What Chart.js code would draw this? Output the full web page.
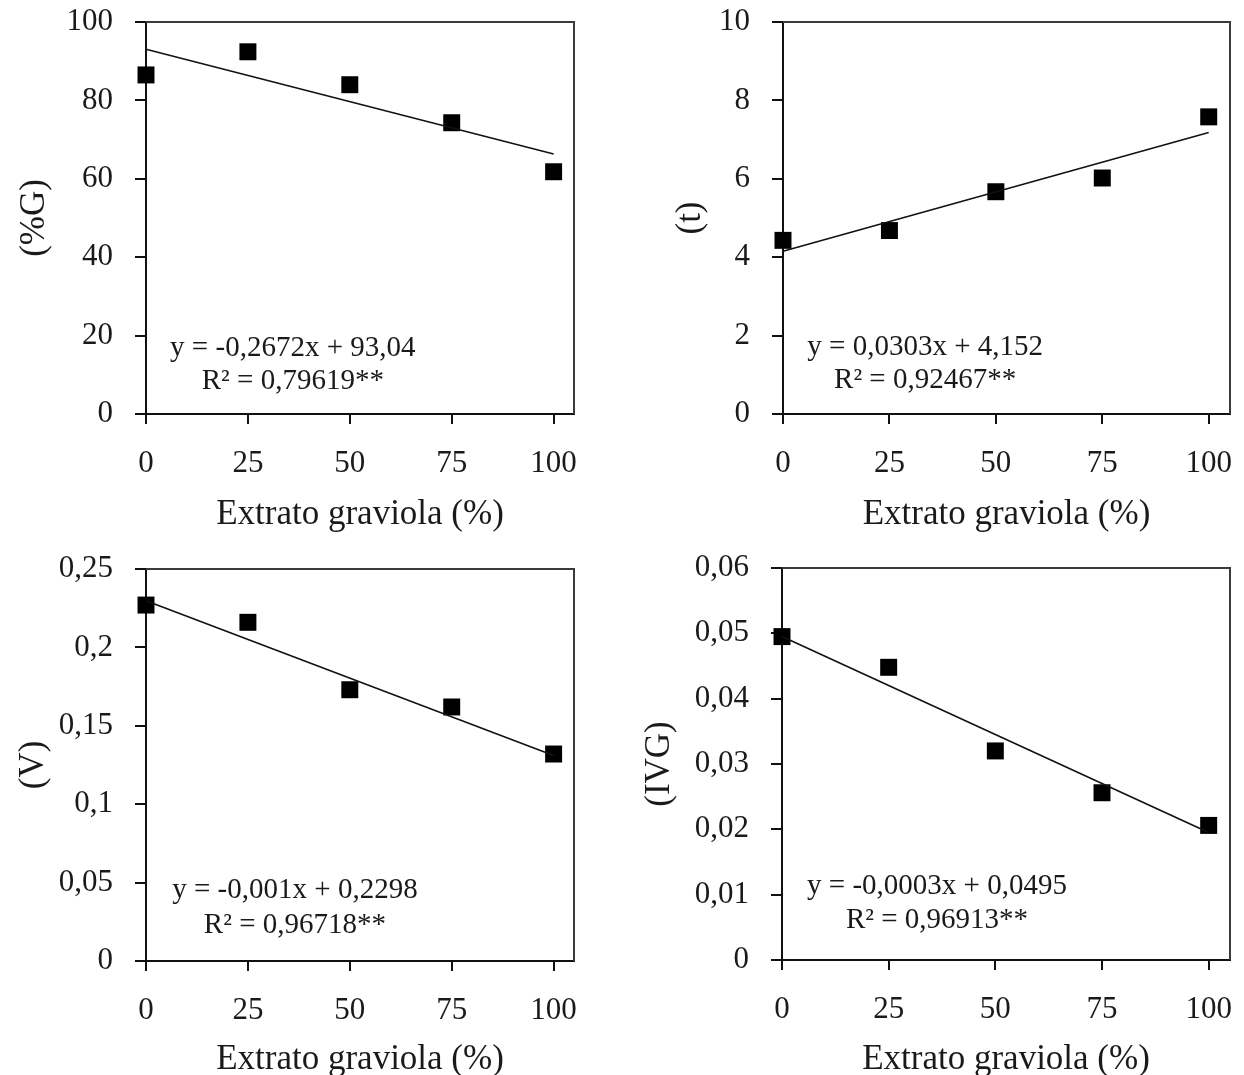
<!DOCTYPE html>
<html>
<head>
<meta charset="utf-8">
<script src="https://cdn.jsdelivr.net/npm/chart.js@4.4.1/dist/chart.umd.min.js"></script>
<style>
  html, body { margin: 0; padding: 0; background: #fff; overflow: hidden; }
  body { width: 1244px; height: 1075px; position: relative; }
  canvas { position: absolute; }
</style>
</head>
<body>
<canvas id="chartG" width="620" height="545" style="left:0;top:0"></canvas>
<canvas id="chartT" width="624" height="545" style="left:620px;top:0"></canvas>
<canvas id="chartV" width="620" height="550" style="left:0;top:540px"></canvas>
<canvas id="chartIVG" width="624" height="550" style="left:620px;top:540px"></canvas>
<script>
// doses of soursop extract (x axis)
const doses = [0, 25, 50, 75, 100];
const xTicks = [0, 25, 50, 75, 100];

// germination (%G)
const germ = [86.5, 92.4, 84.0, 74.3, 61.8];
const germTrend = [93.04, 66.32];
const germTicks = [0, 20, 40, 60, 80, 100];
const germEq = ["y = -0,2672x + 93,04", "R² = 0,79619**"];

// mean time (t)
const meanTime = [4.43, 4.68, 5.67, 6.02, 7.58];
const timeTrend = [4.152, 7.182];
const timeTicks = [0, 2, 4, 6, 8, 10];
const timeEq = ["y = 0,0303x + 4,152", "R² = 0,92467**"];

// velocity (V)
const velocity = [0.227, 0.216, 0.173, 0.162, 0.132];
const velTrend = [0.2298, 0.131];
const velTicks = [0, 0.05, 0.1, 0.15, 0.2, 0.25];
const velEq = ["y = -0,001x + 0,2298", "R² = 0,96718**"];

// germination speed index (IVG)
const ivg = [0.0495, 0.0448, 0.0320, 0.0256, 0.0206];
const ivgTrend = [0.0495, 0.0195];
const ivgTicks = [0, 0.01, 0.02, 0.03, 0.04, 0.05, 0.06];
const ivgEq = ["y = -0,0003x + 0,0495", "R² = 0,96913**"];

const SERIF = '"Liberation Serif", "Times New Roman", serif';
const INK = "#1a1a1a";
const fmt = (v) => String(v).replace(".", ",");

// top and right sides of the plot frame
const framePlugin = {
  id: "frame",
  beforeDatasetsDraw(chart) {
    const { ctx, chartArea: a } = chart;
    ctx.save();
    ctx.strokeStyle = "#3a3a3a";
    ctx.lineWidth = 2;
    ctx.beginPath();
    ctx.moveTo(a.left, a.top);
    ctx.lineTo(a.right, a.top);
    ctx.lineTo(a.right, a.bottom);
    ctx.stroke();
    ctx.restore();
  }
};

// regression equation label
const eqPlugin = {
  id: "eqn",
  afterDatasetsDraw(chart, args, opts) {
    if (!opts.lines) return;
    const { ctx, chartArea: a } = chart;
    const cx = a.left + opts.fx * (a.right - a.left);
    ctx.save();
    ctx.font = "29px " + SERIF;
    ctx.fillStyle = INK;
    ctx.textAlign = "center";
    ctx.textBaseline = "middle";
    opts.lines.forEach((t, i) => {
      ctx.fillText(t, cx, a.top + opts.fy[i] * (a.bottom - a.top));
    });
    ctx.restore();
  }
};

function makePanel(id, cfg) {
  const points = doses.map((x, i) => ({ x: x, y: cfg.values[i] }));
  const trend = [
    { x: doses[0], y: cfg.trend[0] },
    { x: doses[doses.length - 1], y: cfg.trend[1] }
  ];
  return new Chart(document.getElementById(id), {
    type: "scatter",
    data: {
      datasets: [
        {
          data: trend,
          showLine: true,
          borderColor: "#111",
          borderWidth: 1.6,
          pointRadius: 0,
          clip: false
        },
        {
          data: points,
          pointStyle: "rect",
          pointRadius: 12,
          backgroundColor: "#000",
          borderColor: "#000",
          borderWidth: 0,
          clip: false
        }
      ]
    },
    options: {
      responsive: false,
      animation: false,
      layout: { padding: { top: cfg.padTop, right: cfg.padRight, left: 0, bottom: 0 } },
      plugins: {
        legend: { display: false },
        tooltip: { enabled: false },
        eqn: { lines: cfg.eq, fx: cfg.eqX, fy: cfg.eqY }
      },
      scales: {
        x: {
          type: "linear",
          min: 0,
          max: 105,
          afterBuildTicks: (s) => { s.ticks = xTicks.map((v) => ({ value: v })); },
          afterFit: (s) => {
            s.height = cfg.xAxisH;
            s.paddingLeft = 0;
            s.paddingRight = 0;
          },
          ticks: { padding: 21, color: INK, font: { family: SERIF, size: 31 }, callback: (v) => fmt(v) },
          grid: { drawOnChartArea: false, tickLength: 10, color: "#111", lineWidth: 2 },
          border: { color: "#111", width: 2 },
          title: {
            display: true,
            text: "Extrato graviola (%)",
            color: INK,
            font: { family: SERIF, size: 35 },
            padding: { top: 0, bottom: cfg.xTitlePad }
          }
        },
        y: {
          type: "linear",
          min: cfg.ticks[0],
          max: cfg.ticks[cfg.ticks.length - 1],
          afterBuildTicks: (s) => { s.ticks = cfg.ticks.map((v) => ({ value: v })); },
          afterFit: (s) => {
            s.width = cfg.yAxisW;
            s.paddingTop = 0;
            s.paddingBottom = 0;
          },
          ticks: { padding: 22, color: INK, font: { family: SERIF, size: 31 }, callback: (v) => fmt(v) },
          grid: { drawOnChartArea: false, tickLength: 11, color: "#111", lineWidth: 2 },
          border: { color: "#111", width: 2 },
          title: {
            display: true,
            text: cfg.yTitle,
            color: INK,
            font: { family: SERIF, size: 35 },
            padding: { top: cfg.yTitlePad, bottom: 0 }
          }
        }
      }
    },
    plugins: [framePlugin, eqPlugin]
  });
}

makePanel("chartG", {
  values: germ, trend: germTrend, ticks: germTicks, eq: germEq, yTitle: "(%G)",
  padTop: 22, padRight: 46, yAxisW: 146, xAxisH: 131, xTitlePad: 9, yTitlePad: 14,
  eqX: 0.343, eqY: [0.832, 0.916]
});
makePanel("chartT", {
  values: meanTime, trend: timeTrend, ticks: timeTicks, eq: timeEq, yTitle: "(t)",
  padTop: 22, padRight: 14, yAxisW: 163, xAxisH: 131, xTitlePad: 9, yTitlePad: 50,
  eqX: 0.318, eqY: [0.829, 0.913]
});
makePanel("chartV", {
  values: velocity, trend: velTrend, ticks: velTicks, eq: velEq, yTitle: "(V)",
  padTop: 29, padRight: 46, yAxisW: 146, xAxisH: 129, xTitlePad: 9, yTitlePad: 13,
  eqX: 0.348, eqY: [0.819, 0.908]
});
makePanel("chartIVG", {
  values: ivg, trend: ivgTrend, ticks: ivgTicks, eq: ivgEq, yTitle: "(IVG)",
  padTop: 28, padRight: 14, yAxisW: 162, xAxisH: 130, xTitlePad: 9, yTitlePad: 19,
  eqX: 0.346, eqY: [0.811, 0.898]
});
</script>
</body>
</html>
